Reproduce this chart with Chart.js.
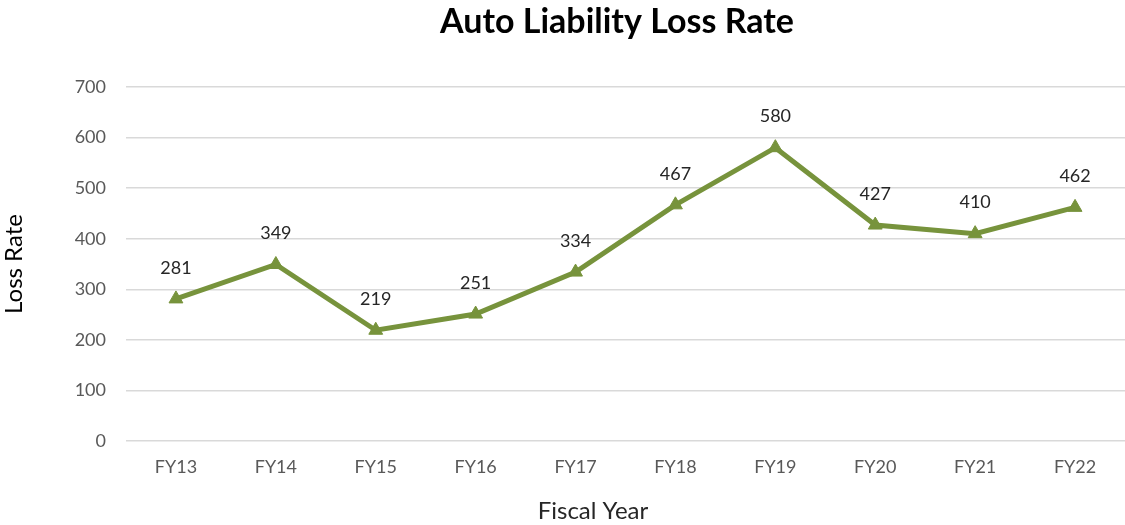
<!DOCTYPE html>
<html>
<head>
<meta charset="utf-8">
<script src="https://cdn.jsdelivr.net/npm/chart.js@4/dist/chart.umd.min.js"></script>
<style>
  html, body { margin: 0; padding: 0; background: #fff; }
  #wrap { width: 1125px; height: 525px; }
</style>
</head>
<body>
<div id="wrap"><canvas id="chart"></canvas></div>
<script>
/* ---------- data ---------- */
const years = ['FY13', 'FY14', 'FY15', 'FY16', 'FY17', 'FY18', 'FY19', 'FY20', 'FY21', 'FY22'];
const lossRates = [281, 349, 219, 251, 334, 467, 580, 427, 410, 462];
const yTicks = [0, 100, 200, 300, 400, 500, 600, 700];

const FONT = 'Lato, "Open Sans", sans-serif';
const GREEN = '#77933C';

/* ---------- value labels + chart/x-axis titles (placed like the Excel original) ---------- */
const extraText = {
  id: 'extraText',
  afterDatasetsDraw(chart) {
    const ctx = chart.ctx;
    const meta = chart.getDatasetMeta(0);
    ctx.save();
    ctx.textAlign = 'center';
    ctx.textBaseline = 'middle';

    ctx.font = '18px ' + FONT;
    ctx.fillStyle = '#262626';
    meta.data.forEach((pt, i) => {
      ctx.fillText(String(lossRates[i]), pt.x, pt.y - 31);
    });

    ctx.font = 'bold 34px ' + FONT;
    ctx.fillStyle = '#000';
    ctx.fillText('Auto Liability Loss Rate', 617, 22);

    ctx.font = '24px ' + FONT;
    ctx.fillStyle = '#262626';
    ctx.fillText('Fiscal Year', 593, 511);
    ctx.restore();
  }
};

new Chart(document.getElementById('chart'), {
  type: 'line',
  data: {
    labels: years,
    datasets: [{
      data: lossRates,
      borderColor: GREEN,
      backgroundColor: GREEN,
      borderWidth: 5,
      pointStyle: 'triangle',
      pointRadius: 8,
      pointBorderWidth: 1,
      tension: 0
    }]
  },
  options: {
    responsive: true,
    maintainAspectRatio: false,
    animation: false,
    layout: { autoPadding: false, padding: { top: 87, right: -3, bottom: 0, left: 0 } },
    plugins: {
      legend: { display: false },
      tooltip: { enabled: false },
      title: { display: false }
    },
    scales: {
      x: {
        offset: true,
        grid: { display: false, drawTicks: false },
        border: { display: false },
        ticks: { color: '#595959', font: { family: FONT, size: 18 }, padding: 15 },
        afterFit: (scale) => {
          scale.height = 84;
          scale.paddingLeft = 0;
          scale.paddingRight = 0;
        }
      },
      y: {
        min: 0,
        max: 700,
        afterBuildTicks: (scale) => { scale.ticks = yTicks.map(v => ({ value: v })); },
        grid: { color: '#d9d9d9', lineWidth: 1.5, drawTicks: false },
        border: { display: false },
        ticks: { color: '#595959', font: { family: FONT, size: 18 }, padding: 20 },
        title: {
          display: true,
          text: 'Loss Rate',
          color: '#000',
          font: { family: FONT, size: 24 },
          padding: { top: 0, bottom: 0 }
        },
        afterFit: (scale) => { scale.width = 126; }
      }
    }
  },
  plugins: [extraText]
});
</script>
</body>
</html>
